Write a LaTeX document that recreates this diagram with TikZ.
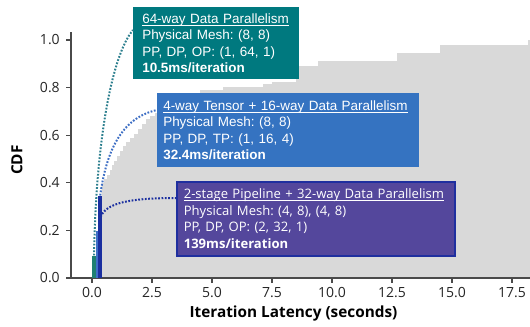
\documentclass[tikz,border=0pt]{standalone}
\usepackage{fontspec}
\setmainfont{Liberation Sans}
\newfontfamily\notosans{Open Sans}
\usetikzlibrary{calc}
\frenchspacing
\definecolor{cdfgray}{HTML}{D9D9D9}
\definecolor{axisgray}{HTML}{4A4A4A}
\definecolor{tealbox}{HTML}{00797F}
\definecolor{bluebox}{HTML}{3573C1}
\definecolor{purplebox}{HTML}{54479C}
\definecolor{purpleedge}{HTML}{1F2F9F}
\definecolor{greenbar}{HTML}{1E8072}
\definecolor{navybar}{HTML}{1B2FA0}
\definecolor{midbluebar}{HTML}{3F6FC8}
\definecolor{tealdots}{HTML}{2C7F8E}
\definecolor{bluedots}{HTML}{3D6EC4}
\newlength\pxl
\setlength\pxl{0.75pt}
\newcommand\boxul[1]{\setbox0\hbox{#1}\rlap{\rule[-1.7pt]{\wd0}{0.55pt}}\box0}
\tikzset{
  axisline/.style={draw=axisgray, line width=1.1pt},
  tickline/.style={draw=axisgray, line width=0.9pt},
  ticklabel/.style={inner sep=0pt, font=\notosans\fontsize{10.5}{12}\selectfont, text=black!85},
  axislabel/.style={inner sep=0pt, font=\notosans\fontsize{11.5}{13}\selectfont\bfseries, text=black},
  infobox/.style={anchor=north west, text=white, align=left, inner ysep=0pt,
    font=\fontsize{10.1}{12.4}\selectfont},
  barnode/.style={anchor=south west, inner sep=0pt, draw=none},
  dotcurve/.style={line width=1.5pt, dash pattern=on 1.3pt off 1.2pt}
}
\begin{document}
\begin{tikzpicture}[x=0.75pt,y=-0.75pt]
\useasboundingbox (0,0) rectangle (530,326);
% CDF area
\fill[cdfgray] (101.5,278) -- (101.5,183) -| (104,179) -| (107,175) -| (110,170)
  -| (112,165) -| (114,161) -| (117,156) -| (120,151) -| (123,146) -| (126,142)
  -| (130,138) -| (134,134) -| (138,129) -| (142,124) -| (146,119) -| (150,116)
  -| (155,113) -| (160,108) -| (170,100) -| (185,95) -| (200,90) -| (223,87)
  -| (263,84) -| (272,82) -| (296,66) -| (318,61) -| (397,53) -| (440,45)
  -| (528,40) -- (530,40) -- (530,278) -- cycle;
% axes
\draw[axisline] (71,32) -- (71,278) -- (530,278);
\foreach \v/\lab [count=\i] in {0/0.0,0.2/0.2,0.4/0.4,0.6/0.6,0.8/0.8,1.0/1.0}{
  \draw[tickline] (71,278-238*\v) -- (66,278-238*\v);
  \node[ticklabel, anchor=east] (yl\i) at (60,278-238*\v) {\lab};
}
\foreach \v/\lab [count=\i] in {0/0.0,2.5/2.5,5/5.0,7.5/7.5,10/10.0,12.5/12.5,15/15.0,17.5/17.5}{
  \draw[tickline] (92+24*\v,278) -- (92+24*\v,283);
  \node[ticklabel] (xl\i) at (92+24*\v,293) {\lab};
}
\node[axislabel] (xlabel) at (293.5,314) {Iteration Latency (seconds)};
\node[axislabel, rotate=90] (ylabel) at (17,160) {CDF};
% bars
\node[barnode, fill=greenbar, minimum width=3.5\pxl, minimum height=22\pxl] (gbar) at (92,278) {};
\node[barnode, fill=midbluebar, minimum width=2\pxl, minimum height=47\pxl] (mbar) at (95.8,278) {};
\node[barnode, fill=navybar, minimum width=3.8\pxl, minimum height=82\pxl] (nbar) at (98,278) {};
% boxes
\node[infobox, fill=tealbox, minimum width=163\pxl, minimum height=72\pxl,
  text width=148\pxl, inner xsep=9\pxl] (tealnode) at (133,7)
  {\boxul{64-way Data Parallelism}\\Physical Mesh: (8, 8)\\PP, DP, OP: (1, 64, 1)\\\textbf{10.5ms/iteration}};
\node[infobox, fill=bluebox, minimum width=260\pxl, minimum height=74\pxl,
  text width=250\pxl, inner xsep=6\pxl] (bluenode) at (157,93)
  {\boxul{4-way Tensor + 16-way Data Parallelism}\\Physical Mesh: (8, 8)\\PP, DP, TP: (1, 16, 4)\\\textbf{32.4ms/iteration}};
\node[infobox, fill=purplebox, draw=purpleedge, line width=1.2pt, minimum width=276\pxl, minimum height=74\pxl,
  text width=264\pxl, inner xsep=7\pxl, font=\notosans\fontsize{9.8}{12.4}\selectfont] (purplenode) at (176,181)
  {\boxul{2-stage Pipeline + 32-way Data Parallelism}\\Physical Mesh: (4, 8), (4, 8)\\PP, DP, OP: (2, 32, 1)\\\textbf{139ms/iteration}};
% connectors
\coordinate (tealend) at ($(tealnode.north west)+(0,23)$);
\coordinate (blueend) at ($(bluenode.north west)+(0,17)$);
\coordinate (purpleend) at ($(purplenode.north west)+(0,17)$);
\coordinate (navyjoin) at ($(nbar.south)+(0.5,-61)$);
\draw[dotcurve, tealdots] (gbar.north) .. controls ($(gbar.north)+(2,-116)$) and (112,55) .. (tealend);
\draw[dotcurve, bluedots] (nbar.north) .. controls ($(nbar.north)+(6,-42)$) and (120,118) .. (blueend);
\draw[dotcurve, navybar] (navyjoin) .. controls ($(navyjoin)+(5,-14)$) and (130,198) .. (purpleend);
\end{tikzpicture}
\end{document}
